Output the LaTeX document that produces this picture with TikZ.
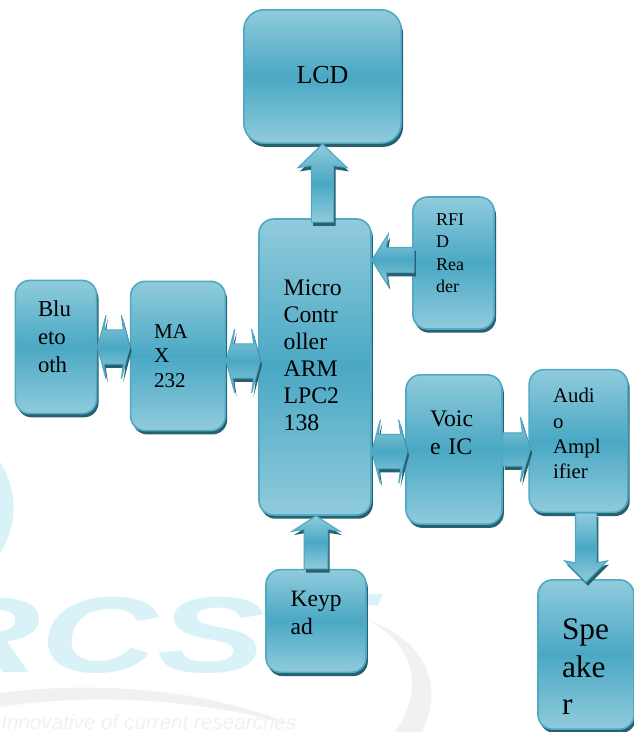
\documentclass[tikz,border=0pt]{standalone}
\usepackage{fontspec}
\setmainfont{Liberation Serif}
\setsansfont{Liberation Sans}
\usetikzlibrary{arrows.meta,calc,shadows,shapes.arrows}
\definecolor{tealedge}{HTML}{4FA9C3}
\definecolor{teallight}{HTML}{90CBDC}
\definecolor{tealmid}{HTML}{4AA8C4}
\definecolor{tealdark}{HTML}{27606F}
\definecolor{markcyan}{HTML}{D8F2F8}
\definecolor{markgray}{HTML}{F1F1F1}
\newcommand{\sz}[2]{\fontsize{#1}{#2}\selectfont}
\newcommand{\lift}[1]{\rule[-#1]{0pt}{0pt}}
\begin{document}
\begin{tikzpicture}[x=0.75pt,y=-0.75pt,
  blk/.style n args={3}{draw=tealedge,line width=1.2pt,rounded corners=11pt,inner sep=0pt,
    top color=teallight,bottom color=teallight,middle color=tealmid,align=left,
    minimum width=#1,minimum height=#2,text width=#3,
    drop shadow={shadow xshift=1.4pt,shadow yshift=-2.8pt,fill=tealdark,opacity=1}},
  arr/.style={draw=tealedge,line width=.8pt,inner xsep=0pt,outer sep=0pt,
    top color=teallight,bottom color=teallight,middle color=tealmid,
    drop shadow={shadow xshift=1.4pt,shadow yshift=-2.8pt,fill=tealdark,opacity=1}},
  sarr/.style n args={3}{arr,single arrow,pos=0,anchor=tail,inner ysep=#1,single arrow head extend=#2,single arrow tip angle=#3,single arrow head indent=1.5pt},
  darr/.style n args={3}{arr,double arrow,inner ysep=#1,double arrow head extend=#2,double arrow tip angle=#3,double arrow head indent=1.5pt},
  flow/.style={to path={let \p1=(\tikztostart),\p2=(\tikztotarget),\n1={veclen(\x2-\x1,\y2-\y1)} in
    -- node[sloped,allow upside down,minimum height=\n1,#1]{} (\tikztotarget)}}]
\useasboundingbox (0,0) rectangle (634,732);
\fill[markcyan] (0,462) .. controls (18,490) and (18,525) .. (0,553) -- cycle;
\node[anchor=base west,inner sep=0pt,text=markcyan,font=\sffamily\bfseries\itshape\fontsize{81pt}{81pt}\selectfont,xscale=1.5] (markname) at (-77,672) {RCS};
\fill[markcyan] (366,594) -- (383,594) -- (378,605) -- (366,605) -- cycle;
\fill[markgray] (0,693) .. controls (100,680) and (210,690) .. (292,725) .. controls (200,700) and (100,692) .. (0,707) -- cycle;
\fill[markgray] (368,620) .. controls (425,640) and (445,685) .. (422,732) -- (395,732) .. controls (425,690) and (415,645) .. (368,620) -- cycle;
\node[anchor=base west,inner sep=0pt,text=markgray,font=\sffamily\itshape\fontsize{15.5pt}{15.5pt}\selectfont] (markline) at (1,729) {Innovative of current researches};
\node[blk={118pt}{100pt}{118pt},rounded corners=15pt,align=center,font=\sz{19.5}{22}] (lcd) at (322.5,76.5) {LCD\lift{2pt}};
\node[blk={84pt}{222pt}{47pt},font=\sz{17.8}{20.3}] (mcu) at (315,367) {Micro\\Contr\\oller\\ARM\\LPC2\\138\lift{18pt}};
\node[blk={61pt}{99pt}{26pt},font=\sz{13.5}{16.9}] (rfid) at (453.5,263) {RFI\\D\\Rea\\der\lift{15pt}};
\node[blk={61pt}{100pt}{27pt},font=\sz{17.1}{21}] (bt) at (56,347) {Blu\\eto\\oth\lift{16pt}};
\node[blk={71pt}{112pt}{36pt},font=\sz{15.8}{18.4}] (max) at (178,356) {MA\\X\\232};
\node[blk={72pt}{112pt}{36pt},font=\sz{17.8}{21}] (voice) at (454,449.5) {Voic\\e IC\lift{25pt}};
\node[blk={74pt}{107pt}{38pt},font=\sz{15.6}{19}] (audio) at (578.5,441) {Audi\\o\\Ampl\\ifier\lift{11pt}};
\node[blk={75pt}{77pt}{38pt},font=\sz{17.6}{21}] (keypad) at (316,621) {Keyp\\ad\lift{13pt}};
\node[blk={72pt}{112pt}{36pt},font=\sz{23.5}{28}] (speaker) at (586,654.5) {\rule{0pt}{34pt}Spe\\ake\\r};
\path ($(mcu.north -| lcd.south)+(0,4)$) to[flow={name=mculcd,sarr={8pt}{10pt}{92}}] (lcd.south);
\path ($(rfid.west)+(2,-3)$) to[flow={name=rfidmcu,sarr={9pt}{10pt}{115}}] ($(rfid.west -| mcu.east)+(0,-3)$);
\path (keypad.north) to[flow={name=keymcu,sarr={8.5pt}{9pt}{114}}] (keypad.north |- mcu.south);
\path (speaker.north |- audio.south) to[flow={name=audspk,sarr={7.5pt}{8pt}{90}}] ($(speaker.north)+(0,3)$);
\path (voice.east) to[flow={name=voiceaud,sarr={12pt}{12pt}{146}}] ($(voice.east -| audio.west)+(2,0)$);
\path (bt.east) to[flow={name=btmax,darr={12.5pt}{11pt}{150}}] (bt.east -| max.west);
\path ($(max.east)+(0,5)$) to[flow={name=maxmcu,darr={12.5pt}{11pt}{150}}] ($(max.east -| mcu.west)+(2,5)$);
\path ($(voice.west -| mcu.east)+(0,2)$) to[flow={name=mcuvoice,darr={12.5pt}{11pt}{150}}] ($(voice.west)+(2,2)$);
\end{tikzpicture}
\end{document}
